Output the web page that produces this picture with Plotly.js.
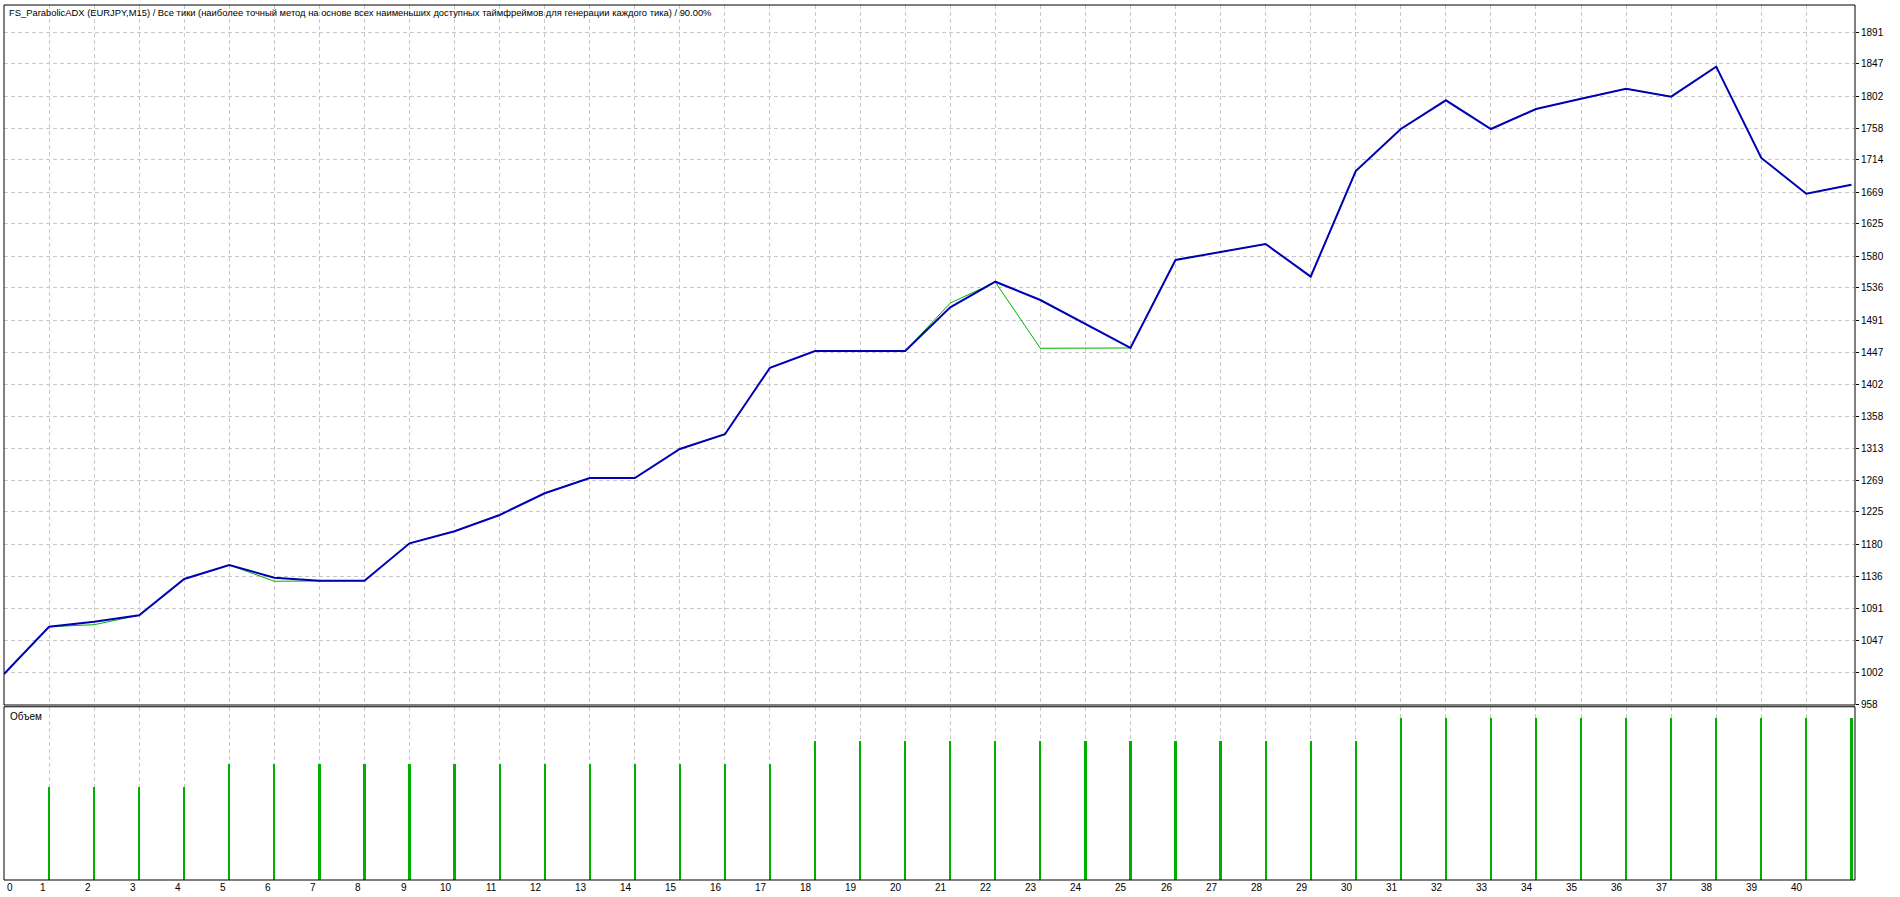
<!DOCTYPE html>
<html><head><meta charset="utf-8">
<script src="https://cdn.plot.ly/plotly-3.0.1.min.js"></script>
<style>html,body{margin:0;padding:0;background:#fff;overflow:hidden}#chart{width:1900px;height:897px}</style>
</head><body><div id="chart"></div>
<script>
const tradeIndex = [0,1,2,3,4,5,6,7,8,9,10,11,12,13,14,15,16,17,18,19,20,21,22,23,24,25,26,27,28,29,30,31,32,33,34,35,36,37,38,39,40,41];
const balance = [1000,1065.7,1072.7,1081.6,1132,1151.4,1133.8,1129.6,1129.6,1181.5,1198.2,1220.8,1251,1272.2,1272.2,1312.5,1332.9,1425.3,1448.5,1448.5,1448.5,1509.2,1544.7,1519.3,1485.6,1452.7,1574.9,1586.0,1597.1,1551.7,1698.4,1756.7,1796.6,1756.7,1784.5,1798.8,1812.7,1801.6,1843.3,1716.5,1666.9,1679.4];
const equity = [1000,1065.7,1068.5,1081.6,1132,1151.4,1128.8,1129.6,1129.6,1181.5,1198.2,1220.8,1251,1272.2,1272.2,1312.5,1332.9,1425.3,1448.5,1448.5,1448.5,1515,1544.2,1452.3,1452.3,1452.7,1574.9,1586.0,1597.1,1551.7,1698.4,1756.7,1796.6,1756.7,1784.5,1798.8,1812.7,1801.6,1843.3,1716.5,1666.9,1679.4];
const volume = [null,4,4,4,4,5,5,5,5,5,5,5,5,5,5,5,5,5,6,6,6,6,6,6,6,6,6,6,6,6,6,7,7,7,7,7,7,7,7,7,7,7];
const xTickLabels = ['0','1','2','3','4','5','6','7','8','9','10','11','12','13','14','15','16','17','18','19','20','21','22','23','24','25','26','27','28','29','30','31','32','33','34','35','36','37','38','39','40'];
const yTickLabels = ['958','1002','1047','1091','1136','1180','1225','1269','1313','1358','1402','1447','1491','1536','1580','1625','1669','1714','1758','1802','1847','1891'];
const chartTitle = 'FS_ParabolicADX (EURJPY,M15) / Все тики (наиболее точный метод на основе всех наименьших доступных таймфреймов для генерации каждого тика) / 90.00%';
const volumeLabel = 'Объем';

const FONT = 'Liberation Sans, Arial, sans-serif';
const GRID = '#c8c8c8';
const BLUE = '#0000b4';
const GREEN = '#00b000';

const traces = [
  {x: tradeIndex, y: volume, type: 'bar', xaxis: 'x', yaxis: 'y2', width: 0.05,
   marker: {color: GREEN, line: {width: 0}}, hoverinfo: 'skip', showlegend: false},
  {x: tradeIndex, y: equity, type: 'scatter', mode: 'lines', xaxis: 'x2', yaxis: 'y',
   line: {color: GREEN, width: 1}, hoverinfo: 'skip', showlegend: false},
  {x: tradeIndex, y: balance, type: 'scatter', mode: 'lines', xaxis: 'x2', yaxis: 'y',
   line: {color: BLUE, width: 2}, hoverinfo: 'skip', showlegend: false}
];

const xGrid = {
  range: [0, 41.08], tickvals: xTickLabels.map(Number), showticklabels: false, ticks: '',
  showgrid: true, gridcolor: GRID, gridwidth: 1, griddash: '4px,3px', zeroline: false, showline: false, fixedrange: true
};

const annotations = [
  {xref: 'paper', yref: 'paper', x: 3/1851, y: (880-12)/875, xanchor: 'left', yanchor: 'middle',
   text: chartTitle, showarrow: false, font: {family: FONT, size: 9.4, color: '#000'}},
  {xref: 'paper', yref: 'paper', x: 4/1851, y: (880-716)/875, xanchor: 'left', yanchor: 'middle',
   text: volumeLabel, showarrow: false, font: {family: FONT, size: 10, color: '#000'}}
];
xTickLabels.forEach((t, i) => {
  annotations.push({xref: 'x', yref: 'paper', x: Number(t), y: (880-887)/875,
    xanchor: i === 0 ? 'left' : 'right', xshift: i === 0 ? 1 : -1, yanchor: 'middle',
    text: t, showarrow: false, font: {family: FONT, size: 10, color: '#000'}});
});

const layout = {
  width: 1900, height: 897,
  margin: {l: 4, r: 45, t: 5, b: 17, pad: 0},
  paper_bgcolor: '#fff', plot_bgcolor: '#fff',
  showlegend: false, bargap: 0,
  xaxis: Object.assign({}, xGrid, {domain: [0, 1], anchor: 'y2'}),
  xaxis2: Object.assign({}, xGrid, {domain: [0, 1], anchor: 'y', matches: 'x'}),
  yaxis: {domain: [0.2, 1], anchor: 'x2', side: 'right', range: [957.0, 1928.9],
    tickvals: yTickLabels.map(Number), ticktext: yTickLabels,
    ticks: 'outside', ticklen: 3, tickcolor: '#000', tickwidth: 1,
    tickfont: {family: FONT, size: 10, color: '#000'},
    showgrid: true, gridcolor: GRID, gridwidth: 1, griddash: '4px,3px', zeroline: false, showline: false, fixedrange: true},
  yaxis2: {domain: [0, 0.198], anchor: 'x', range: [0, 7.48], showgrid: false, showticklabels: false,
    ticks: '', zeroline: false, showline: false, fixedrange: true},
  shapes: [
    {type: 'rect', xref: 'paper', yref: 'paper', x0: 0, x1: 1, y0: 0.2, y1: 1, line: {color: '#000', width: 1}},
    {type: 'rect', xref: 'paper', yref: 'paper', x0: 0, x1: 1, y0: 0, y1: 0.198, line: {color: '#000', width: 1}}
  ],
  annotations: annotations
};

Plotly.newPlot('chart', traces, layout, {displayModeBar: false, staticPlot: true});
</script>
</body></html>
